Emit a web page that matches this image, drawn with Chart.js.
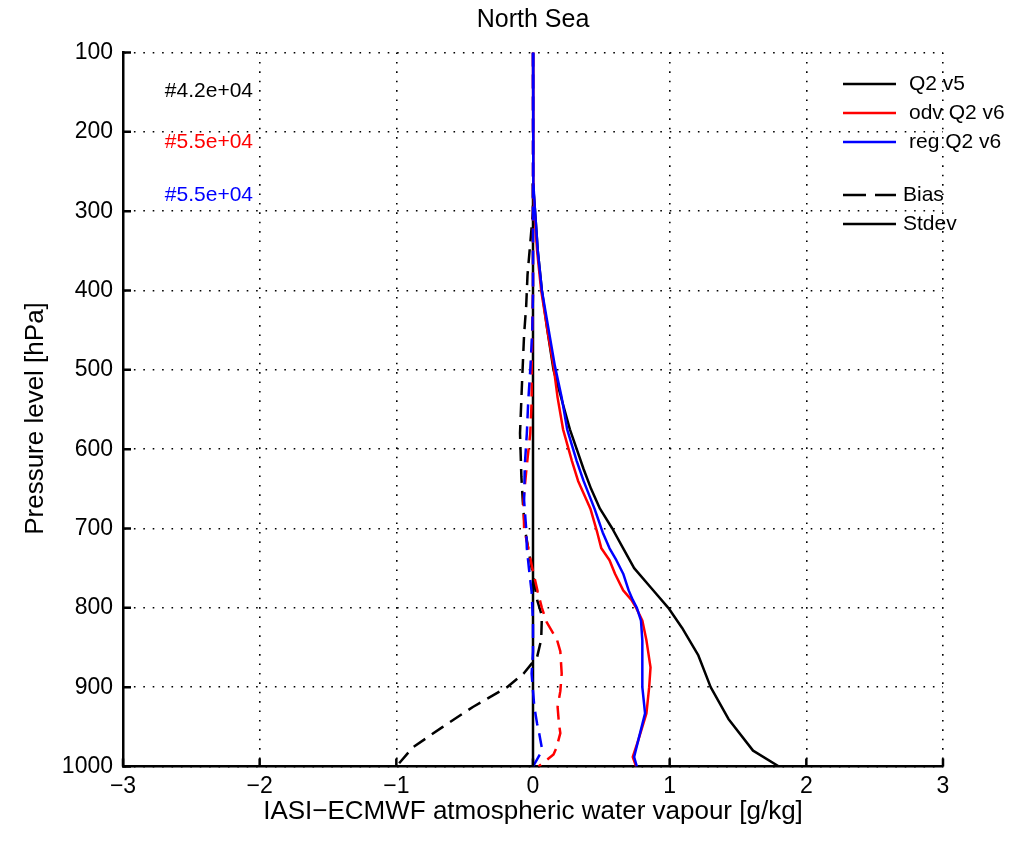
<!DOCTYPE html>
<html>
<head>
<meta charset="utf-8">
<script src="https://cdn.jsdelivr.net/npm/chart.js@4.4.0/dist/chart.umd.min.js"></script>
<style>
  html, body { margin: 0; padding: 0; background: #fff; }
  #c { display: block; }
</style>
</head>
<body>
<canvas id="c" width="1016" height="842"></canvas>
<script>
// ---------- data ----------
const xTicks = [-3, -2, -1, 0, 1, 2, 3];
const yTicks = [100, 200, 300, 400, 500, 600, 700, 800, 900, 1000];

// Q2 v5 (black)
const pV5Std = [265, 300, 350, 400, 450, 500, 550, 575, 600, 625, 650, 675, 700, 725, 750, 775, 800, 825, 860, 900, 940, 980, 1000];
const v5Std  = [0, 0.015, 0.035, 0.065, 0.105, 0.15, 0.23, 0.27, 0.32, 0.37, 0.425, 0.49, 0.58, 0.66, 0.74, 0.865, 0.99, 1.09, 1.21, 1.30, 1.43, 1.61, 1.80];
const pV5Bias = [265, 300, 340, 380, 420, 455, 515, 580, 635, 665, 700, 730, 760, 790, 810, 840, 862, 883, 900, 925, 950, 976, 1000];
const v5Bias  = [0, 0, -0.02, -0.04, -0.05, -0.065, -0.08, -0.095, -0.085, -0.075, -0.06, -0.03, 0, 0.03, 0.065, 0.06, 0.03, -0.07, -0.19, -0.44, -0.66, -0.88, -1.0];

// zero reference line
const pZero = [265, 1000];
const zeroVals = [0, 0];

// odv / reg Q2 v6 stdev
const pV6Std = [100, 200, 265, 300, 350, 400, 455, 495, 535, 575, 615, 640, 675, 705, 725, 740, 757, 778, 790, 800, 816, 841, 875, 900, 933, 967, 988, 1000];
const odvStd = [0, 0, 0.005, 0.01, 0.03, 0.06, 0.11, 0.15, 0.18, 0.22, 0.285, 0.33, 0.42, 0.47, 0.50, 0.56, 0.60, 0.66, 0.72, 0.755, 0.80, 0.83, 0.86, 0.85, 0.83, 0.77, 0.73, 0.755];
const regStd = [0, 0, 0.005, 0.015, 0.035, 0.065, 0.12, 0.16, 0.21, 0.25, 0.32, 0.37, 0.45, 0.51, 0.56, 0.61, 0.66, 0.70, 0.73, 0.76, 0.79, 0.80, 0.80, 0.80, 0.82, 0.77, 0.74, 0.76];

// odv / reg Q2 v6 bias
const pV6Bias = [100, 265, 400, 450, 500, 540, 580, 620, 665, 700, 725, 750, 765, 780, 800, 818, 840, 855, 883, 905, 925, 946, 958, 977, 985, 1000];
const odvBias = [0, 0, 0, -0.005, -0.01, -0.01, -0.02, -0.045, -0.07, -0.065, -0.035, -0.005, 0.015, 0.035, 0.065, 0.10, 0.175, 0.20, 0.21, 0.20, 0.18, 0.19, 0.20, 0.17, 0.15, 0.04];
const regBias = [0, 0, 0, -0.005, -0.02, -0.035, -0.045, -0.06, -0.065, -0.05, -0.045, -0.03, -0.02, -0.01, -0.005, 0, 0, 0, -0.01, 0, 0.01, 0.03, 0.045, 0.065, 0.05, 0];

const seriesLabels = ['Q2 v5', 'odv Q2 v6', 'reg Q2 v6'];
const seriesColors = ['#000000', '#ff0000', '#0000ff'];
const countLabels = ['#4.2e+04', '#5.5e+04', '#5.5e+04'];
const styleLabels = ['Bias', 'Stdev'];
const yTitle = 'Pressure level [hPa]';

// ---------- chart ----------
const FONT = "'Liberation Sans', Arial, Helvetica, sans-serif";
const LW = 2.5;
const DASH = [14, 8];

function pts(vals, pres) { return vals.map((v, i) => ({ x: v, y: pres[i] })); }
function ds(label, vals, pres, color, dashed, order) {
  return {
    label, data: pts(vals, pres), borderColor: color, backgroundColor: color,
    borderWidth: LW, borderDash: dashed ? DASH : [], showLine: true,
    pointRadius: 0, tension: 0, order, borderCapStyle: 'butt', borderJoinStyle: 'round'
  };
}

const datasets = [
  ds('zero', zeroVals, pZero, '#000', false, 5),
  ds(seriesLabels[0] + ' Stdev', v5Std, pV5Std, seriesColors[0], false, 4),
  ds(seriesLabels[0] + ' Bias', v5Bias, pV5Bias, seriesColors[0], true, 4),
  ds(seriesLabels[1] + ' Stdev', odvStd, pV6Std, seriesColors[1], false, 2),
  ds(seriesLabels[1] + ' Bias', odvBias, pV6Bias, seriesColors[1], true, 2),
  ds(seriesLabels[2] + ' Stdev', regStd, pV6Std, seriesColors[2], false, 0),
  ds(seriesLabels[2] + ' Bias', regBias, pV6Bias, seriesColors[2], true, 0)
];

const TICK_IN = 8;
const decor = {
  id: 'decor',
  afterDraw(chart) {
    const { ctx, chartArea: ca, scales: { x, y } } = chart;
    ctx.save();
    // inward ticks
    ctx.strokeStyle = '#000';
    ctx.lineWidth = 2.5;
    ctx.beginPath();
    yTicks.forEach(v => {
      const py = y.getPixelForValue(v);
      ctx.moveTo(ca.left, py); ctx.lineTo(ca.left + TICK_IN, py);
    });
    xTicks.forEach(v => {
      const px = x.getPixelForValue(v);
      ctx.moveTo(px, ca.bottom); ctx.lineTo(px, ca.bottom - TICK_IN);
    });
    ctx.stroke();

    // y-axis title (slightly below axis centre, as in the reference)
    ctx.save();
    ctx.font = '26px ' + FONT;
    ctx.fillStyle = '#000';
    ctx.textAlign = 'center';
    ctx.textBaseline = 'middle';
    ctx.translate(36, (ca.top + ca.bottom) / 2 + 9);
    ctx.rotate(-Math.PI / 2);
    ctx.fillText(yTitle, 0, 0);
    ctx.restore();

    // sample counts (top-left)
    ctx.font = '21px ' + FONT;
    ctx.textAlign = 'right';
    ctx.textBaseline = 'middle';
    const cntY = [91, 142.5, 195.5];
    countLabels.forEach((t, i) => {
      ctx.fillStyle = seriesColors[i];
      ctx.fillText(t, 253, cntY[i]);
    });

    // legend (top-right)
    const lx0 = 843, lx1 = 896;
    const legY = [84, 113, 142];
    ctx.textAlign = 'left';
    ctx.lineWidth = LW;
    seriesLabels.forEach((t, i) => {
      ctx.strokeStyle = seriesColors[i];
      ctx.setLineDash([]);
      ctx.beginPath(); ctx.moveTo(lx0, legY[i]); ctx.lineTo(lx1, legY[i]); ctx.stroke();
      ctx.fillStyle = '#000';
      ctx.fillText(t, 909, legY[i] + 0.5);
    });
    const styY = [195, 224];
    ctx.strokeStyle = '#000';
    ctx.beginPath(); ctx.moveTo(lx0, styY[0]); ctx.lineTo(866, styY[0]);
    ctx.moveTo(875, styY[0]); ctx.lineTo(lx1, styY[0]); ctx.stroke();
    ctx.beginPath(); ctx.moveTo(lx0, styY[1]); ctx.lineTo(lx1, styY[1]); ctx.stroke();
    ctx.fillStyle = '#000';
    ctx.fillText(styleLabels[0], 903, styY[0] + 0.5);
    ctx.fillText(styleLabels[1], 903, styY[1] + 0.5);
    ctx.restore();
  }
};

const gridOpts = { color: '#000', lineWidth: 1.6, drawTicks: false };
const borderOpts = { display: true, color: '#000', width: 2.5, dash: [1.6, 7.8] };

new Chart(document.getElementById('c'), {
  type: 'scatter',
  data: { datasets },
  options: {
    responsive: false,
    animation: false,
    devicePixelRatio: 1,
    layout: { padding: { left: 0, right: 73, top: 0, bottom: 0 } },
    plugins: {
      legend: { display: false },
      tooltip: { enabled: false },
      title: {
        display: true, text: 'North Sea', fullSize: false, color: '#000',
        font: { family: FONT, size: 25, weight: 'normal', lineHeight: 1.2 },
        padding: { top: 5.5, bottom: 17 }
      }
    },
    scales: {
      x: {
        type: 'linear', min: -3, max: 3,
        afterBuildTicks: s => { s.ticks = xTicks.map(v => ({ value: v })); },
        ticks: {
          color: '#000', padding: 6, font: { family: FONT, size: 23 },
          callback: v => (v < 0 ? '\u2212' + Math.abs(v) : String(v))
        },
        grid: gridOpts, border: borderOpts,
        title: {
          display: true, text: 'IASI\u2212ECMWF atmospheric water vapour [g/kg]', color: '#000',
          font: { family: FONT, size: 26, lineHeight: 1.2 }, padding: { top: 0, bottom: 15 }
        },
        afterFit: s => { s.height = 75.5; }
      },
      y: {
        type: 'linear', reverse: true, min: 100, max: 1000,
        afterBuildTicks: s => { s.ticks = yTicks.map(v => ({ value: v })); },
        ticks: { color: '#000', padding: 10, font: { family: FONT, size: 23 }, callback: v => String(v) },
        grid: gridOpts, border: borderOpts,
        title: { display: false },
        afterFit: s => { s.width = 123; }
      }
    }
  },
  plugins: [decor]
});
</script>
</body>
</html>
